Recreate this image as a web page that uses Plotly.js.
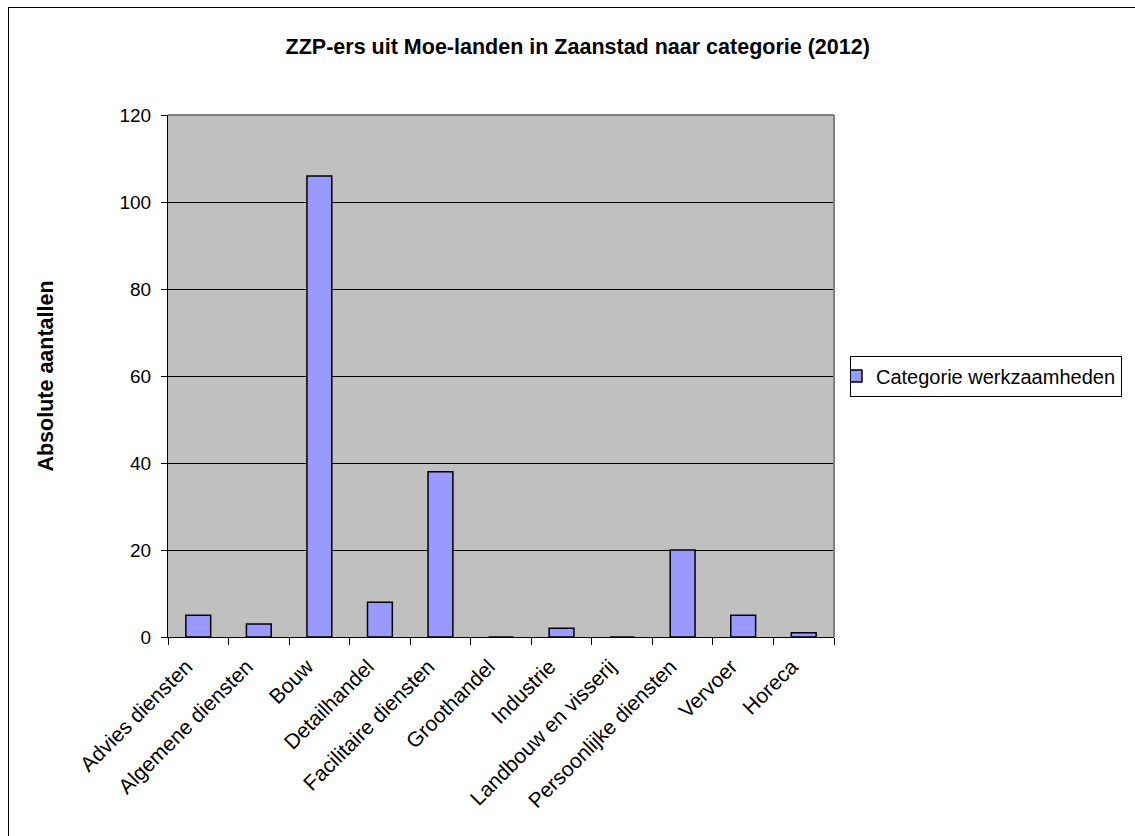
<!DOCTYPE html>
<html>
<head>
<meta charset="utf-8">
<script src="https://cdn.plot.ly/plotly-3.0.1.min.js"></script>
<style>
  html, body { margin: 0; padding: 0; width: 1135px; height: 836px; overflow: hidden; background: #fff; }
  #frame { position: absolute; left: 8px; top: 7px; width: 1200px; height: 900px; border: 1px solid #000; box-sizing: border-box; }
  #chart { position: absolute; left: 0; top: 0; width: 1135px; height: 836px; }
</style>
</head>
<body>
<div id="frame"></div>
<div id="chart"></div>
<script>
const categories = ["Advies diensten", "Algemene diensten", "Bouw", "Detailhandel", "Facilitaire diensten",
  "Groothandel", "Industrie", "Landbouw en visserij", "Persoonlijke diensten", "Vervoer", "Horeca"];
const values = [5, 3, 106, 8, 38, 0, 2, 0, 20, 5, 1];
const seriesName = "Categorie werkzaamheden";
const yTicks = [0, 20, 40, 60, 80, 100, 120];

const font = "Liberation Sans, Arial, sans-serif";

const trace = {
  type: "bar",
  x: categories,
  y: values,
  name: seriesName,
  showlegend: true,
  marker: { color: "#9999FF", line: { color: "#000000", width: 1.5 } },
  hoverinfo: "x+y"
};

const layout = {
  width: 1135, height: 836,
  margin: { l: 168, r: 301, t: 115, b: 199, autoexpand: false },
  paper_bgcolor: "rgba(0,0,0,0)",
  plot_bgcolor: "#C0C0C0",
  font: { family: font, color: "#000", size: 19 },
  bargap: 0.59,
  title: {
    text: "<b>ZZP-ers uit Moe-landen in Zaanstad naar categorie (2012)</b>",
    font: { family: font, size: 21.5, color: "#000" },
    xref: "container", x: 0.509, xanchor: "center",
    yref: "container", y: 0.944, yanchor: "middle"
  },
  xaxis: {
    type: "category",
    automargin: false,
    tickangle: -45,
    ticks: "outside", ticklen: 7, tickcolor: "#000", tickwidth: 1,
    tickson: "boundaries",
    ticklabelshift: -12,
    ticklabelstandoff: 8,
    showline: true, linecolor: "#000", linewidth: 1,
    showgrid: false,
    tickfont: { family: font, size: 21, color: "#000" },
    fixedrange: true
  },
  yaxis: {
    range: [0, 120],
    automargin: false,
    tickvals: yTicks,
    ticktext: yTicks.map(String),
    ticks: "outside", ticklen: 6, tickcolor: "#000", tickwidth: 1,
    ticklabelstandoff: 6,
    showline: true, linecolor: "#000", linewidth: 1,
    showgrid: true, gridcolor: "#000", gridwidth: 1,
    zeroline: false,
    tickfont: { family: font, size: 19, color: "#000" },
    title: { text: "<b>Absolute aantallen</b>", font: { family: font, size: 21.5, color: "#000" }, standoff: 59 },
    fixedrange: true
  },
  legend: {
    x: 1.024, xanchor: "left", xref: "paper",
    y: 0.5, yanchor: "middle", yref: "paper",
    bgcolor: "#FFFFFF", bordercolor: "#000", borderwidth: 1,
    font: { family: font, size: 20, color: "#000" },
    indentation: -15,
    itemwidth: 30
  },
  shapes: [
    { type: "line", xref: "paper", yref: "paper", x0: 0, x1: 1, y0: 1, y1: 1, line: { color: "#808080", width: 2 }, layer: "above" },
    { type: "line", xref: "paper", yref: "paper", x0: 1, x1: 1, y0: 0, y1: 1, line: { color: "#808080", width: 2 }, layer: "above" }
  ]
};

Plotly.newPlot("chart", [trace], layout, { displayModeBar: false, staticPlot: true });
</script>
</body>
</html>
